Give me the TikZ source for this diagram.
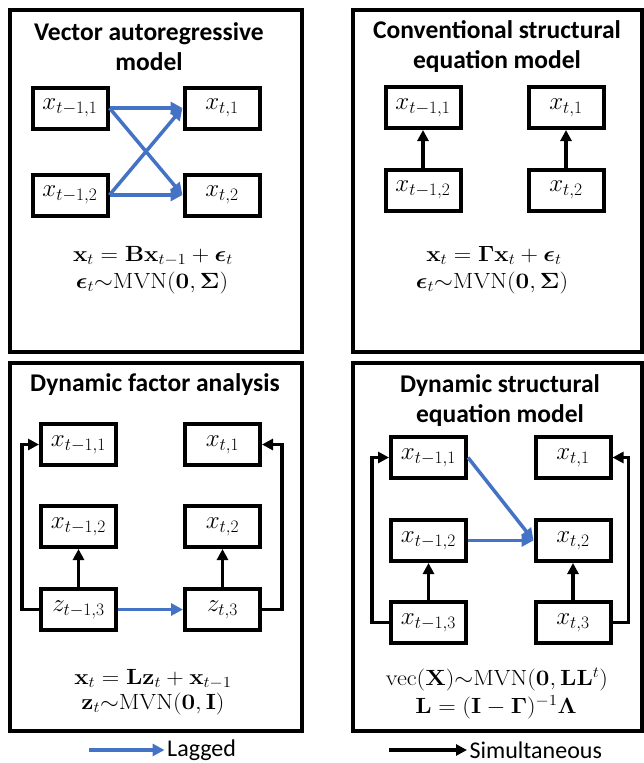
\RequirePackage{fix-cm}
\documentclass[tikz,border=0pt]{standalone}
\usepackage{amsmath}
\usepackage{graphicx}
\usepackage[no-math]{fontspec}
\newfontfamily\carlito{Carlito}
\usetikzlibrary{arrows.meta}
\definecolor{lagblue}{HTML}{4472C4}
% equation lines: slightly widened math
\newcommand{\eqline}[1]{\scalebox{1.1}[1]{$#1$}}
\tikzset{
  panel/.style={draw=black, line width=4pt},
  var/.style={draw=black, line width=4pt, fill=white, minimum width=75pt, minimum height=41pt,
    inner sep=0pt, font=\fontsize{25}{27}\selectfont},
  ttl/.style={align=center, font=\carlito\bfseries\fontsize{25.5}{30}\selectfont},
  eqn/.style={anchor=base, inner sep=0pt, font=\fontsize{22}{24}\selectfont},
  lag/.style={draw=lagblue, line width=3.5pt, -{Triangle[length=12pt,width=12pt]}},
  sim/.style={draw=black, line width=3.5pt, -{Triangle[length=11pt,width=11pt]}},
  legtxt/.style={font=\carlito\fontsize{24}{26}\selectfont, inner sep=2.5pt, anchor=west}
}
\begin{document}
\begin{tikzpicture}[x=1pt,y=-1pt]
\useasboundingbox (0,0) rectangle (643,763);

% frames
\draw[panel] (10,10) rectangle (302,352);
\draw[panel] (353,10) rectangle (641.5,352);
\draw[panel] (10,363) rectangle (302,731);
\draw[panel] (353,363) rectangle (641.5,731);

% ---- Vector autoregressive model
\node[ttl] (t1) at (149,47) {Vector autoregressive\\model};
\node[var] (a11) at (70,108) {$x_{t-1,1}$};
\node[var] (a21) at (222,108) {$x_{t,1}$};
\node[var] (a12) at (70,195) {$x_{t-1,2}$};
\node[var] (a22) at (222,195) {$x_{t,2}$};
\draw[lag] (a11.east) -- (a21.west);
\draw[lag] (a11.east) -- (a22.west);
\draw[lag] (a12.east) -- (a21.west);
\draw[lag] (a12.east) -- (a22.west);
\node[eqn] (e1a) at (153,261) {\eqline{\mathbf{x}_t = \mathbf{B}\mathbf{x}_{t-1} + \boldsymbol{\epsilon}_t}};
\node[eqn] (e1b) at (152,288) {\eqline{\boldsymbol{\epsilon}_t{\sim}\mathrm{MVN}(\mathbf{0},\mathbf{\Sigma})}};

% ---- Conventional structural equation model
\node[ttl] (t2) at (497,47) {Conventional structural\\equation model};
\node[var] (b11) at (423,107.5) {$x_{t-1,1}$};
\node[var] (b21) at (566,107.5) {$x_{t,1}$};
\node[var] (b12) at (423,190) {$x_{t-1,2}$};
\node[var] (b22) at (566,190) {$x_{t,2}$};
\draw[sim] (b12.north) -- (b11.south);
\draw[sim] (b22.north) -- (b21.south);
\node[eqn] (e2a) at (494,261) {\eqline{\mathbf{x}_t = \mathbf{\Gamma}\mathbf{x}_t + \boldsymbol{\epsilon}_t}};
\node[eqn] (e2b) at (492,288.5) {\eqline{\boldsymbol{\epsilon}_t{\sim}\mathrm{MVN}(\mathbf{0},\mathbf{\Sigma})}};

% ---- Dynamic factor analysis
\node[ttl] (t3) at (155,385) {Dynamic factor analysis};
\node[var] (c11) at (78.5,444.5) {$x_{t-1,1}$};
\node[var] (c21) at (222.5,444.5) {$x_{t,1}$};
\node[var] (c12) at (78.5,526.5) {$x_{t-1,2}$};
\node[var] (c22) at (222.5,526.5) {$x_{t,2}$};
\node[var] (c13) at (78.5,609.5) {$z_{t-1,3}$};
\node[var] (c23) at (222.5,609.5) {$z_{t,3}$};
\draw[sim] (c13.north) -- (c12.south);
\draw[sim] (c23.north) -- (c22.south);
\draw[sim] (c13.west) -- ++(-17,0) |- (c11.west);
\draw[sim] (c23.east) -- ++(20,0) |- (c21.east);
\draw[lag] (c13.east) -- (c23.west);
\node[eqn] (e3a) at (153,684) {\eqline{\mathbf{x}_t = \mathbf{L}\mathbf{z}_t + \mathbf{x}_{t-1}}};
\node[eqn] (e3b) at (153,709) {\eqline{\mathbf{z}_t{\sim}\mathrm{MVN}(\mathbf{0},\mathbf{I})}};

% ---- Dynamic structural equation model
\node[ttl] (t4) at (500,401) {Dynamic structural\\equation model};
\node[var] (d11) at (428.5,457.5) {$x_{t-1,1}$};
\node[var] (d21) at (573,457.5) {$x_{t,1}$};
\node[var] (d12) at (428.5,540.5) {$x_{t-1,2}$};
\node[var] (d22) at (573,540.5) {$x_{t,2}$};
\node[var] (d13) at (428.5,622.5) {$x_{t-1,3}$};
\node[var] (d23) at (573,622.5) {$x_{t,3}$};
\draw[sim] (d13.north) -- (d12.south);
\draw[sim] (d23.north) -- (d22.south);
\draw[sim] (d13.west) -- ++(-17,0) |- (d11.west);
\draw[sim] (d23.east) -- ++(16,0) |- (d21.east);
\draw[lag] (d11.east) -- (d22.west);
\draw[lag] (d12.east) -- (d22.west);
\node[eqn] (e4a) at (497,685) {\eqline{\mathrm{vec}(\mathbf{X}){\sim}\mathrm{MVN}(\mathbf{0},\mathbf{L}\mathbf{L}^t)}};
\node[eqn] (e4b) at (496,713) {\eqline{\mathbf{L} = (\mathbf{I} - \mathbf{\Gamma})^{-1}\mathbf{\Lambda}}};

% ---- legend
\coordinate (lagS) at (89,750);
\node[legtxt] (lagT) at (164.5,750) {Lagged};
\draw[lag] (lagS) -- (lagT.west);
\coordinate (simS) at (389,750);
\node[legtxt] (simT) at (467,750) {Simultaneous};
\draw[sim] (simS) -- (simT.west);
\end{tikzpicture}
\end{document}
